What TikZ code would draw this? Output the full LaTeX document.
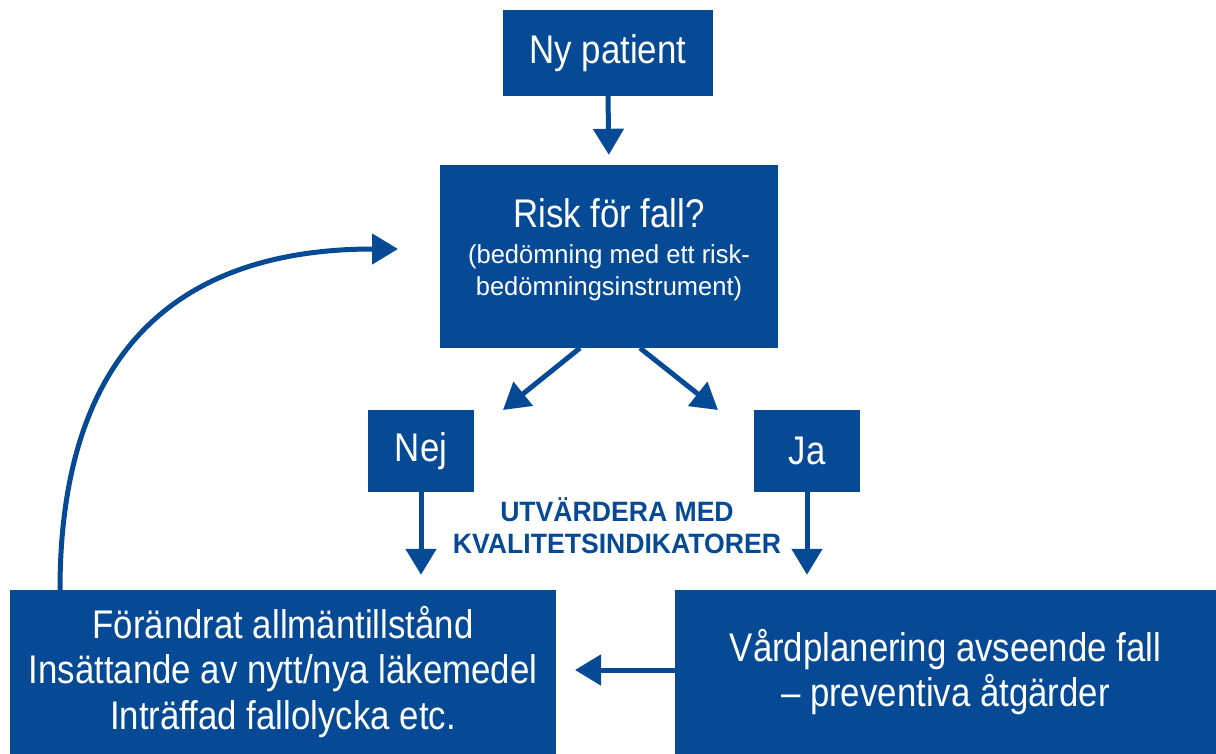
\documentclass[tikz,border=0pt]{standalone}
\usepackage{fontspec}
\setmainfont[FakeStretch=0.87]{Liberation Sans}
\newfontfamily\notefont[FakeStretch=0.95]{Liberation Sans}
\newfontfamily\subfont[FakeStretch=0.98]{Liberation Sans}
\usetikzlibrary{arrows.meta}
\definecolor{fblue}{HTML}{064A96}
\begin{document}
\begin{tikzpicture}[x=1pt,y=-1pt,
  box/.style={fill=fblue,text=white,inner sep=0pt,align=center,font=\fontsize{40}{45.5}\selectfont},
  conn/.style={draw=fblue,line width=5pt,-{Triangle[width=30pt,length=26pt]}},
  note/.style={text=fblue,align=center,font=\notefont\bfseries\fontsize{28}{32}\selectfont}]
\useasboundingbox (0,0) rectangle (1216,754);
\node[box,minimum width=210pt,minimum height=86pt] (ny) at (608,53) {Ny patient};
\node[box,minimum width=338pt,minimum height=183pt] (risk) at (609,256.5) {};
\node[text=white,align=center,font=\fontsize{40}{40}\selectfont] (risktitle) at (609,213) {Risk för fall?};
\node[text=white,align=center,font=\subfont\fontsize{26}{32}\selectfont] (risksub) at (609,273) {(bedömning med ett risk-\\bedömningsinstrument)};
\node[box,minimum width=106pt,minimum height=82pt] (nej) at (421,451) {Nej};
\node[box,minimum width=106pt,minimum height=82pt] (ja) at (807,451) {Ja};
\node[box,minimum width=546pt,minimum height=164pt] (left) at (283,672) {Förändrat allmäntillstånd\\Insättande av nytt/nya läkemedel\\Inträffad fallolycka etc.};
\node[box,minimum width=541pt,minimum height=164pt] (right) at (945.5,672) {Vårdplanering avseende fall\\– preventiva åtgärder};
\node[note] (utv) at (617,526) {UTVÄRDERA MED\\KVALITETSINDIKATORER};
\coordinate (rl) at (580,348);
\coordinate (rr) at (640,348);
\coordinate (tl) at (503,410);
\coordinate (tr) at (718,410);
\coordinate (cs) at (60,590);
\coordinate (ce) at (398,249);
\draw[conn,shorten >=10pt] (ny.south) -- (risk.north);
\draw[conn] (rl) -- (tl);
\draw[conn] (rr) -- (tr);
\draw[conn,shorten >=15pt] (nej.south) -- (nej.south |- left.north);
\draw[conn,shorten >=15pt] (ja.south) -- (ja.south |- right.north);
\draw[conn] (right.west |- 0,670) -- (575,670);
\draw[conn] (cs) .. controls (60,330) and (200,249) .. (ce);
\end{tikzpicture}
\end{document}
